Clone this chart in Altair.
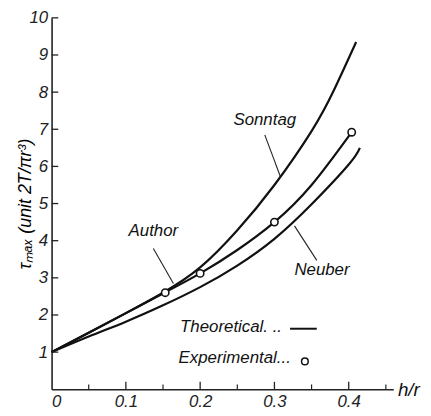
import altair as alt
import pandas as pd

# ---- data ----
hr_sonntag = [0.0, 0.05, 0.10, 0.15, 0.20, 0.25, 0.30, 0.35, 0.38, 0.41]
tau_sonntag = [1.0, 1.52, 2.05, 2.60, 3.28, 4.28, 5.50, 6.95, 8.05, 9.35]

hr_author = [0.0, 0.05, 0.10, 0.15, 0.20, 0.25, 0.30, 0.35, 0.405]
tau_author = [1.0, 1.52, 2.05, 2.58, 3.12, 3.75, 4.50, 5.50, 6.95]

hr_neuber = [0.0, 0.05, 0.10, 0.15, 0.20, 0.25, 0.30, 0.35, 0.40, 0.415]
tau_neuber = [1.0, 1.42, 1.82, 2.26, 2.75, 3.33, 4.05, 4.98, 6.05, 6.50]

hr_exp = [0.153, 0.20, 0.30, 0.404]
tau_exp = [2.60, 3.12, 4.50, 6.92]

x_major = [0.1, 0.2, 0.3, 0.4]
x_minor = [0.05, 0.15, 0.25, 0.35, 0.45]
x_labels = [0, 0.1, 0.2, 0.3, 0.4]
y_ticks = [1, 2, 3, 4, 5, 6, 7, 8, 9, 10]

label_text = ["Sonntag", "Author", "Neuber"]
label_x = [0.287, 0.137, 0.364]
label_y = [7.25, 4.27, 3.20]

leader_x = [0.287, 0.137, 0.327]
leader_y = [6.85, 3.79, 4.40]
leader_x2 = [0.308, 0.164, 0.357]
leader_y2 = [5.73, 2.85, 3.47]

legend_text = ["Theoretical. .. ", "Experimental... "]
legend_x = [0.173, 0.171]
legend_y = [1.68, 0.85]

FONT = "Liberation Sans"

curves = pd.concat([
    pd.DataFrame({"hr": hr_sonntag, "tau": tau_sonntag, "curve": "Sonntag"}),
    pd.DataFrame({"hr": hr_author, "tau": tau_author, "curve": "Author"}),
    pd.DataFrame({"hr": hr_neuber, "tau": tau_neuber, "curve": "Neuber"}),
])
exp_df = pd.DataFrame({"hr": hr_exp, "tau": tau_exp})

xs = alt.Scale(domain=[0, 0.46], nice=False, clamp=False)
ys = alt.Scale(domain=[0, 10], nice=False)

base_x = alt.X("hr:Q", scale=xs,
               axis=alt.Axis(values=x_labels, format="~g", title=None, ticks=False,
                             grid=False, labelFontSize=17, labelFont=FONT,
                             labelFontStyle="italic", labelPadding=4,
                             domainColor="#222", domainWidth=1.6, labelColor="#222"))
base_y = alt.Y("tau:Q", scale=ys,
               axis=alt.Axis(values=y_ticks, title="τₘₐₓ (unit 2T/πr³)", ticks=False,
                             grid=False, labelFontSize=17, labelFont=FONT,
                             labelFontStyle="italic", labelPadding=4,
                             titleFont=FONT, titleFontSize=18, titleFontStyle="italic",
                             titleFontWeight="normal", titleX=-17,
                             domainColor="#222", domainWidth=1.6, labelColor="#222"))

lines = alt.Chart(curves).mark_line(color="#111", strokeWidth=2.2, interpolate="natural").encode(
    x=base_x, y=base_y, detail="curve:N")

pts = alt.Chart(exp_df).mark_point(shape="circle", size=55, filled=True, fill="white",
                                   stroke="#111", strokeWidth=1.6, opacity=1).encode(
    x=alt.X("hr:Q", scale=xs), y=alt.Y("tau:Q", scale=ys))

ytick_df = pd.DataFrame({"t": y_ticks})
yt = alt.Chart(ytick_df).mark_rule(color="#222", strokeWidth=1.3).encode(
    x=alt.datum(0, scale=xs), x2=alt.datum(0.009), y=alt.Y("t:Q", scale=ys))

xmaj_df = pd.DataFrame({"t": x_major})
xt1 = alt.Chart(xmaj_df).mark_rule(color="#222", strokeWidth=1.3).encode(
    x=alt.X("t:Q", scale=xs), y=alt.datum(0, scale=ys), y2=alt.datum(0.2))
xmin_df = pd.DataFrame({"t": x_minor})
xt2 = alt.Chart(xmin_df).mark_rule(color="#222", strokeWidth=1.2).encode(
    x=alt.X("t:Q", scale=xs), y=alt.datum(0, scale=ys), y2=alt.datum(0.13))

lab_df = pd.DataFrame({"text": label_text, "x": label_x, "y": label_y})
labs = alt.Chart(lab_df).mark_text(font=FONT, fontSize=17, fontStyle="italic",
                                   color="#111", align="center", baseline="middle").encode(
    x=alt.X("x:Q", scale=xs), y=alt.Y("y:Q", scale=ys), text="text:N")

lead_df = pd.DataFrame({"x": leader_x, "y": leader_y, "x2": leader_x2, "y2": leader_y2})
leads = alt.Chart(lead_df).mark_rule(color="#222", strokeWidth=1.1).encode(
    x=alt.X("x:Q", scale=xs), y=alt.Y("y:Q", scale=ys), x2="x2:Q", y2="y2:Q")

leg_df = pd.DataFrame({"text": legend_text, "x": legend_x, "y": legend_y})
legt = alt.Chart(leg_df).mark_text(font=FONT, fontSize=17, fontStyle="italic",
                                   color="#111", align="left", baseline="middle").encode(
    x=alt.X("x:Q", scale=xs), y=alt.Y("y:Q", scale=ys), text="text:N")

leg_line = alt.Chart(pd.DataFrame({"x": [0.321], "x2": [0.357], "y": [1.63]})).mark_rule(
    color="#111", strokeWidth=2).encode(
    x=alt.X("x:Q", scale=xs), x2="x2:Q", y=alt.Y("y:Q", scale=ys))
leg_pt = alt.Chart(pd.DataFrame({"x": [0.341], "y": [0.75]})).mark_point(
    shape="circle", size=45, filled=True, fill="white", stroke="#111", strokeWidth=1.5,
    opacity=1).encode(x=alt.X("x:Q", scale=xs), y=alt.Y("y:Q", scale=ys))

hr_lab = alt.Chart(pd.DataFrame({"text": ["h/r"], "x": [0.481], "y": [-0.03]})).mark_text(
    font=FONT, fontSize=19, fontStyle="italic", color="#111", align="center",
    baseline="middle").encode(x=alt.X("x:Q", scale=xs), y=alt.Y("y:Q", scale=ys), text="text:N")

chart = alt.layer(lines, yt, xt1, xt2, leads, pts, labs, legt, leg_line, leg_pt, hr_lab).properties(
    width=345, height=375,
    autosize=alt.AutoSizeParams(type="none"),
    padding={"left": 44, "top": 8, "right": 30, "bottom": 19},
    background="white",
).configure_view(stroke=None)

chart.save("out.html", embed_options={"renderer": "svg", "actions": False})
